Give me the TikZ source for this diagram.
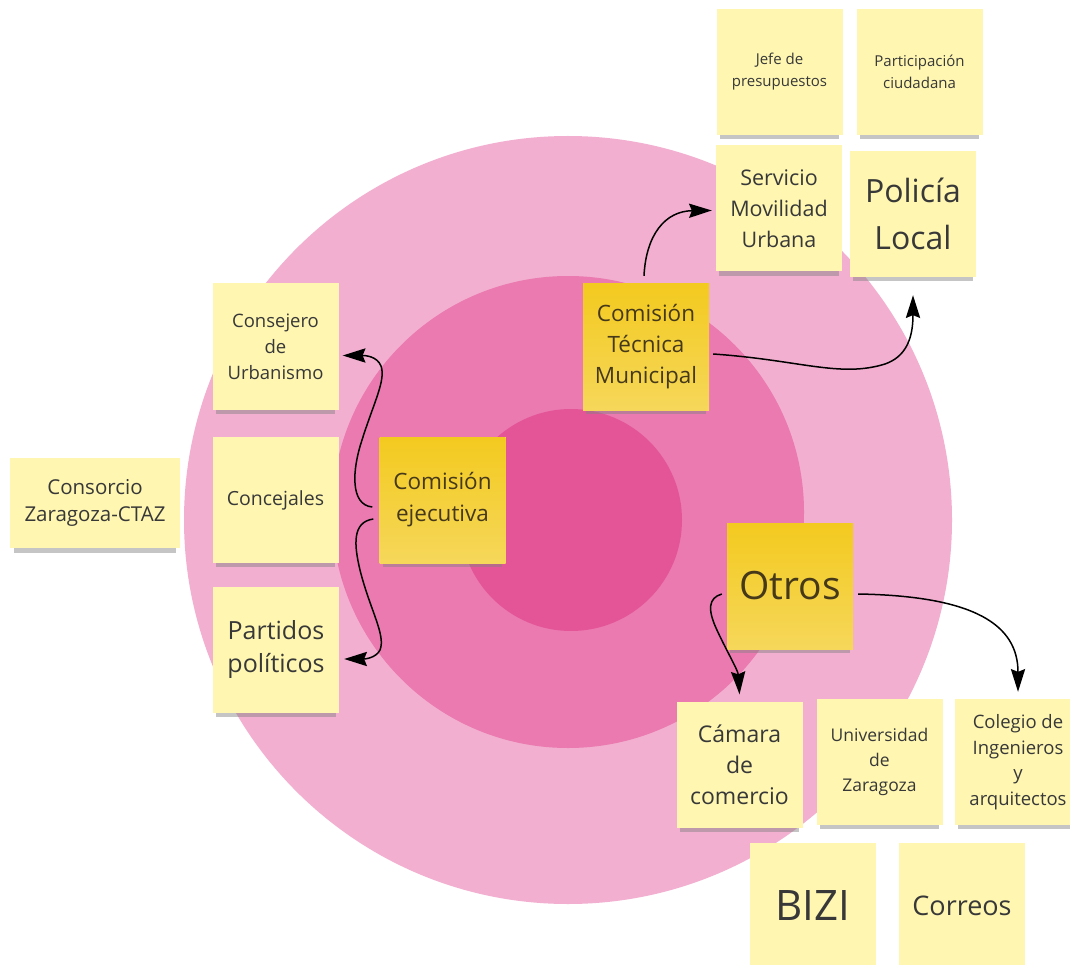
\documentclass[tikz,border=0pt]{standalone}
\usepackage{fontspec}
\setmainfont{Open Sans}
\usepackage{xcolor}
\usepackage{tikz}
\usetikzlibrary{arrows.meta,positioning,calc,shadows}

\definecolor{ringout}{HTML}{F2AFD0}
\definecolor{ringmid}{HTML}{EA7AB0}
\definecolor{ringin}{HTML}{E45598}
\definecolor{notelight}{HTML}{FEF6B1}
\definecolor{notekeytop}{HTML}{F3CA1F}
\definecolor{notekeybot}{HTML}{F6D75A}
\definecolor{inktext}{HTML}{383838}
\definecolor{inkkey}{HTML}{45391A}

\begin{document}
\begin{tikzpicture}[x=1pt,y=-1pt,
    note/.style={fill=notelight, text=inktext, minimum width=126pt, minimum height=126pt,
        inner sep=2pt, align=center,
        drop shadow={shadow xshift=0pt, shadow yshift=-8pt, shadow scale=0.95, opacity=0.45}},
    keynote/.style={note, top color=notekeytop, bottom color=notekeybot, text=inkkey},
    link/.style={line width=1.5pt, black, -{Stealth[length=8mm,width=5mm,inset=1mm]}}]
    \useasboundingbox (0,0) rectangle (1070,965);
    \fill[white] (0,0) rectangle (1070,965);

    % Rings
    \fill[ringout] (568,520) circle [radius=384pt];
    \fill[ringmid] (568,512) circle [radius=236pt];
    \fill[ringin] (571,520) circle [radius=111pt];

    % Top right notes
    \node[note, font=\fontsize{15}{22}\selectfont] (jefe) at (779.5,72) {Jefe de\\presupuestos};
    \node[note, font=\fontsize{15}{22}\selectfont] (partic) at (919.5,72) {Participación\\ciudadana};
    \node[note, font=\fontsize{21.5}{31}\selectfont] (servicio) at (779,208.5) {Servicio\\Movilidad\\Urbana};
    \node[note, font=\fontsize{32}{47}\selectfont] (policia) at (913,214) {Policía\\Local};

    % Left notes
    \node[note, font=\fontsize{18.5}{26}\selectfont] (consejero) at (275.5,346.5) {Consejero\\de\\Urbanismo};
    \node[note, font=\fontsize{19.5}{26}\selectfont] (concejales) at (275.5,500) {Concejales};
    \node[note, font=\fontsize{25}{33}\selectfont] (partidos) at (276,650) {Partidos\\políticos};
    \node[note, minimum width=170pt, minimum height=90pt, font=\fontsize{20.5}{27}\selectfont] (consorcio) at (95,503) {Consorcio\\Zaragoza-CTAZ};

    % Key notes
    \node[keynote, font=\fontsize{22.5}{32}\selectfont] (ejecutiva) at (442.5,500) {Comisión\\ejecutiva};
    \node[keynote, font=\fontsize{22.5}{31}\selectfont] (tecnica) at (646,347) {Comisión\\Técnica\\Municipal};
    \node[keynote, font=\fontsize{39}{40}\selectfont] (otros) at (790,586) {Otros};

    % Bottom right notes
    \node[note, font=\fontsize{23}{31}\selectfont] (camara) at (739.5,764.5) {Cámara\\de\\comercio};
    \node[note, font=\fontsize{17.5}{25}\selectfont] (universidad) at (879.5,762) {Universidad\\de\\Zaragoza};
    \node[note, font=\fontsize{18.5}{25.5}\selectfont] (colegio) at (1018,762) {Colegio de\\Ingenieros\\y\\arquitectos};
    \node[note, font=\fontsize{42}{44}\selectfont] (bizi) at (812.5,906) {BIZI};
    \node[note, font=\fontsize{27}{30}\selectfont] (correos) at (962,906) {Correos};

    % Links
    \draw[link] ([shift={(-7,7)}]ejecutiva.west) .. controls (350,505) and (352,470) .. (362,440)
        .. controls (374,402) and (386,380) .. (381,366)
        .. controls (377,356) and (365,355.5) .. ([shift={(4,9)}]consejero.east);
    \draw[link] ([shift={(-6,19)}]ejecutiva.west) .. controls (352,522) and (354,545) .. (360,570)
        .. controls (370,610) and (386,635) .. (380,650)
        .. controls (376,658) and (365,659) .. ([shift={(5,9)}]partidos.east);
    \draw[link] ([shift={(-2,-8)}]tecnica.north) .. controls (646,235) and (665,211) .. ([shift={(-4,2)}]servicio.west);
    \draw[link] ([shift={(4,7)}]tecnica.east) .. controls (800,360) and (840,378) .. (885,364)
        .. controls (905,357) and (913,340) .. ([shift={(0,18)}]policia.south);
    \draw[link] ([shift={(-5,8)}]otros.west) .. controls (708,598) and (708,610) .. (716,628)
        .. controls (726,650) and (738,670) .. ([shift={(0,-7)}]camara.north);
    \draw[link] ([shift={(5,8)}]otros.east) .. controls (975,596) and (1018,625) .. ([shift={(0,-7)}]colegio.north);
\end{tikzpicture}
\end{document}
